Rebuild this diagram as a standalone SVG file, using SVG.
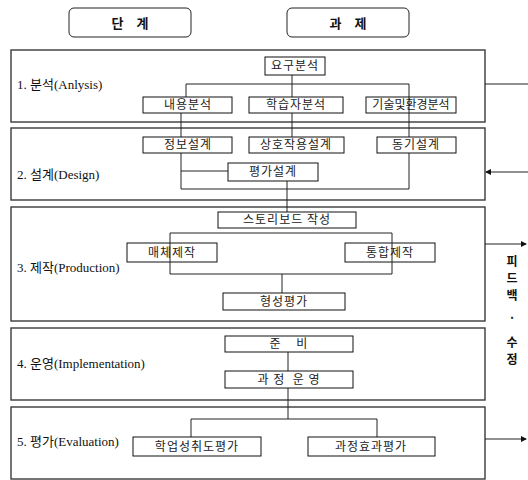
<svg xmlns="http://www.w3.org/2000/svg" width="528" height="480" viewBox="0 0 528 480">
<style>
.stage{fill:none;stroke:#3a3a3a;stroke-width:1.4}
.box{fill:#fff;stroke:#111;stroke-width:1}
.hdr{fill:#fff;stroke:#222;stroke-width:1}
.ln{fill:none;stroke:#222;stroke-width:1}
.bt{font-family:"Noto Sans CJK KR",sans-serif;font-size:12px;fill:#222;text-anchor:middle;letter-spacing:1px}
.lbl{font-family:"Liberation Serif","Noto Sans CJK KR",serif;font-size:13px;fill:#111}
.ht{font-family:"Noto Sans CJK KR",sans-serif;font-size:13px;font-weight:bold;fill:#111;text-anchor:middle}
.fb{font-family:"Noto Sans CJK KR",sans-serif;font-size:12px;font-weight:bold;fill:#111;text-anchor:middle}
</style>
<defs>
<marker id="ah" markerWidth="6" markerHeight="6" refX="5" refY="3" orient="auto" markerUnits="userSpaceOnUse">
<path d="M0,0 L6,3 L0,6 z" fill="#111"/>
</marker>
</defs>

<g id="header-stage"><rect class="hdr" x="69" y="8" width="122" height="29" rx="5"/><text class="ht" x="130" y="28">단　계</text></g>
<g id="header-task"><rect class="hdr" x="287" y="8" width="122" height="29" rx="5"/><text class="ht" x="348" y="28">과　제</text></g>

<g id="stage1"><rect class="stage" x="11" y="50" width="474" height="72"/><text class="lbl" x="17" y="89">1. 분석(Anlysis)</text></g>
<g id="stage2"><rect class="stage" x="11" y="128" width="474" height="72"/><text class="lbl" x="17" y="179">2. 설계(Design)</text></g>
<g id="stage3"><rect class="stage" x="11" y="207" width="474" height="114"/><text class="lbl" x="17" y="272">3. 제작(Production)</text></g>
<g id="stage4"><rect class="stage" x="11" y="328" width="474" height="72"/><text class="lbl" x="17" y="368">4. 운영(Implementation)</text></g>
<g id="stage5"><rect class="stage" x="11" y="407" width="474" height="72"/><text class="lbl" x="17" y="446">5. 평가(Evaluation)</text></g>

<g id="connectors">
<path class="ln" d="M292,75 V97 M186,97 V84 H409 V137 M292,113 V137 M181,113 V189 H409 V153 M181,171 H228 M287,181 V212"/>
<path class="ln" d="M288,352 V371 M288,388 V419 M191,437 V419 H377 V437"/>
<path class="ln" d="M485,84 H528"/>
<path class="ln" d="M528,172 H486" marker-end="url(#ah)"/>
<path class="ln" d="M485,244 H526" marker-end="url(#ah)"/>
<path class="ln" d="M485,439 H526" marker-end="url(#ah)"/>
</g>

<g id="n-yogu"><rect class="box" x="265" y="57" width="60" height="18"/><text class="bt" x="295" y="70">요구분석</text></g>
<g id="n-naeyong"><rect class="box" x="143" y="97" width="89" height="16"/><text class="bt" x="188" y="109">내용분석</text></g>
<g id="n-haksup"><rect class="box" x="249" y="97" width="94" height="16"/><text class="bt" x="296" y="109">학습자분석</text></g>
<g id="n-gisul"><rect class="box" x="366" y="97" width="90" height="16"/><text class="bt" x="411" y="109" style="letter-spacing:0">기술및환경분석</text></g>
<path class="ln" d="M409,97 V113"/>

<g id="n-jeongbo"><rect class="box" x="143" y="137" width="89" height="16"/><text class="bt" x="188" y="149">정보설계</text></g>
<g id="n-sangho"><rect class="box" x="249" y="137" width="95" height="16"/><text class="bt" x="296" y="149">상호작용설계</text></g>
<g id="n-donggi"><rect class="box" x="377" y="137" width="79" height="16"/><text class="bt" x="416" y="149">동기설계</text></g>
<g id="n-pyeongga"><rect class="box" x="228" y="163" width="90" height="18"/><text class="bt" x="273" y="176">평가설계</text></g>

<g id="n-story"><rect class="box" x="218" y="212" width="138" height="16"/><text class="bt" x="287" y="224">스토리보드 작성</text></g>
<g id="n-maeche"><rect class="box" x="127" y="243" width="90" height="19"/><text class="bt" x="172" y="257">매체제작</text></g>
<g id="n-tonghap"><rect class="box" x="345" y="243" width="90" height="19"/><text class="bt" x="390" y="257">통합제작</text></g>
<path class="ln" d="M170,233 H392 V274 H170 Z M282,274 V293"/>
<g id="n-hyeongseong"><rect class="box" x="223" y="293" width="122" height="17"/><text class="bt" x="284" y="306">형성평가</text></g>

<g id="n-junbi"><rect class="box" x="225" y="336" width="128" height="16"/><text class="bt" x="289" y="348" xml:space="preserve">준    비</text></g>
<g id="n-gwajeong"><rect class="box" x="225" y="371" width="128" height="17"/><text class="bt" x="289" y="384" xml:space="preserve">과 정  운 영</text></g>

<g id="n-hakeop"><rect class="box" x="133" y="437" width="128" height="19"/><text class="bt" x="197" y="451">학업성취도평가</text></g>
<g id="n-hyogwa"><rect class="box" x="308" y="437" width="127" height="19"/><text class="bt" x="371" y="451">과정효과평가</text></g>

<g id="feedback-label">
<text class="fb" x="512" y="266">피</text>
<text class="fb" x="512" y="283">드</text>
<text class="fb" x="512" y="300">백</text>
<text class="fb" x="512" y="322">·</text>
<text class="fb" x="512" y="347">수</text>
<text class="fb" x="512" y="364">정</text>
</g>
</svg>
